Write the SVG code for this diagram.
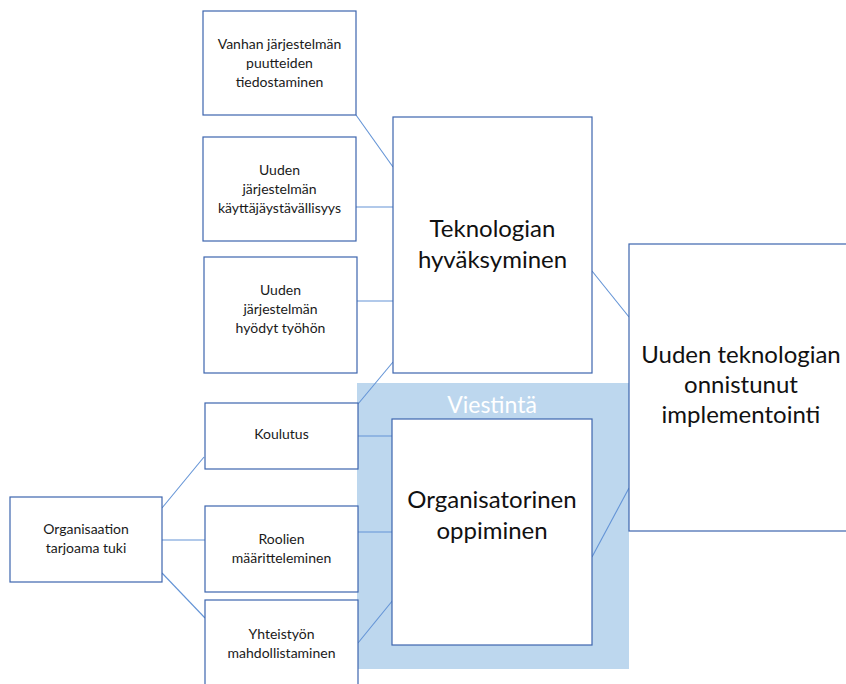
<svg xmlns="http://www.w3.org/2000/svg" width="846" height="684" viewBox="0 0 846 684">
<style>
.box{fill:#fff;stroke:#3D65AE;stroke-width:1.2}
.s{font-family:Lato,"Open Sans","Liberation Sans",sans-serif;font-size:14px;fill:#1a1a1a;text-anchor:middle}
.l{font-family:Lato,"Open Sans","Liberation Sans",sans-serif;font-size:24px;fill:#111;text-anchor:middle}
.c{stroke:#6494D6;stroke-width:1.1;fill:none}
</style>
<rect width="846" height="684" fill="#fff"/>
<g id="viestinta">
<rect x="357" y="383" width="272" height="286" fill="#BDD7EE"/>
<text x="492" y="413" font-family="Lato,'Open Sans','Liberation Sans',sans-serif" font-size="23" fill="#fff" text-anchor="middle">Viestintä</text>
</g>
<g id="connectors">
<line class="c" x1="356" y1="115" x2="393" y2="167"/>
<line class="c" x1="356" y1="207" x2="393" y2="207"/>
<line class="c" x1="357" y1="301" x2="393" y2="301"/>
<line class="c" x1="358" y1="404" x2="393" y2="362"/>
<line class="c" x1="358" y1="436" x2="392" y2="436"/>
<line class="c" x1="358" y1="532" x2="392" y2="532"/>
<line class="c" x1="358" y1="643" x2="393" y2="600"/>
<line class="c" x1="162" y1="508" x2="204" y2="457"/>
<line class="c" x1="162" y1="540" x2="205" y2="540"/>
<line class="c" x1="162" y1="573" x2="205" y2="618"/>
<line class="c" x1="592" y1="271" x2="629" y2="317"/>
<line class="c" x1="592" y1="557" x2="629" y2="488"/>
</g>
<g id="vanhan">
<rect class="box" x="203" y="11" width="153" height="104"/>
<text class="s" x="279.5" y="49">Vanhan järjestelmän</text>
<text class="s" x="279.5" y="68">puutteiden</text>
<text class="s" x="279.5" y="87">tiedostaminen</text>
</g>
<g id="kayttajaystavallisyys">
<rect class="box" x="203" y="137" width="153" height="104"/>
<text class="s" x="279.5" y="175">Uuden</text>
<text class="s" x="279.5" y="194">järjestelmän</text>
<text class="s" x="279.5" y="213">käyttäjäystävällisyys</text>
</g>
<g id="hyodyt">
<rect class="box" x="204" y="257" width="153" height="116"/>
<text class="s" x="280.5" y="295">Uuden</text>
<text class="s" x="280.5" y="314">järjestelmän</text>
<text class="s" x="280.5" y="333">hyödyt työhön</text>
</g>
<g id="koulutus">
<rect class="box" x="205" y="403" width="153" height="66"/>
<text class="s" x="281.5" y="439">Koulutus</text>
</g>
<g id="roolien">
<rect class="box" x="205" y="506" width="153" height="86"/>
<text class="s" x="281.5" y="544">Roolien</text>
<text class="s" x="281.5" y="563">määritteleminen</text>
</g>
<g id="yhteistyon">
<rect class="box" x="205" y="600" width="153" height="100"/>
<text class="s" x="281.5" y="639">Yhteistyön</text>
<text class="s" x="281.5" y="658">mahdollistaminen</text>
</g>
<g id="organisaation">
<rect class="box" x="10" y="497" width="152" height="85"/>
<text class="s" x="86" y="534">Organisaation</text>
<text class="s" x="86" y="553">tarjoama tuki</text>
</g>
<g id="teknologian">
<rect class="box" x="393" y="117" width="199" height="256"/>
<text class="l" x="492.5" y="237">Teknologian</text>
<text class="l" x="492.5" y="268">hyväksyminen</text>
</g>
<g id="organisatorinen">
<rect class="box" x="392" y="419" width="200" height="226"/>
<text class="l" x="492" y="508">Organisatorinen</text>
<text class="l" x="492" y="539">oppiminen</text>
</g>
<g id="implementointi">
<rect class="box" x="629" y="244" width="230" height="287"/>
<text class="l" x="741" y="363">Uuden teknologian</text>
<text class="l" x="741" y="393">onnistunut</text>
<text class="l" x="741" y="423">implementointi</text>
</g>
</svg>
